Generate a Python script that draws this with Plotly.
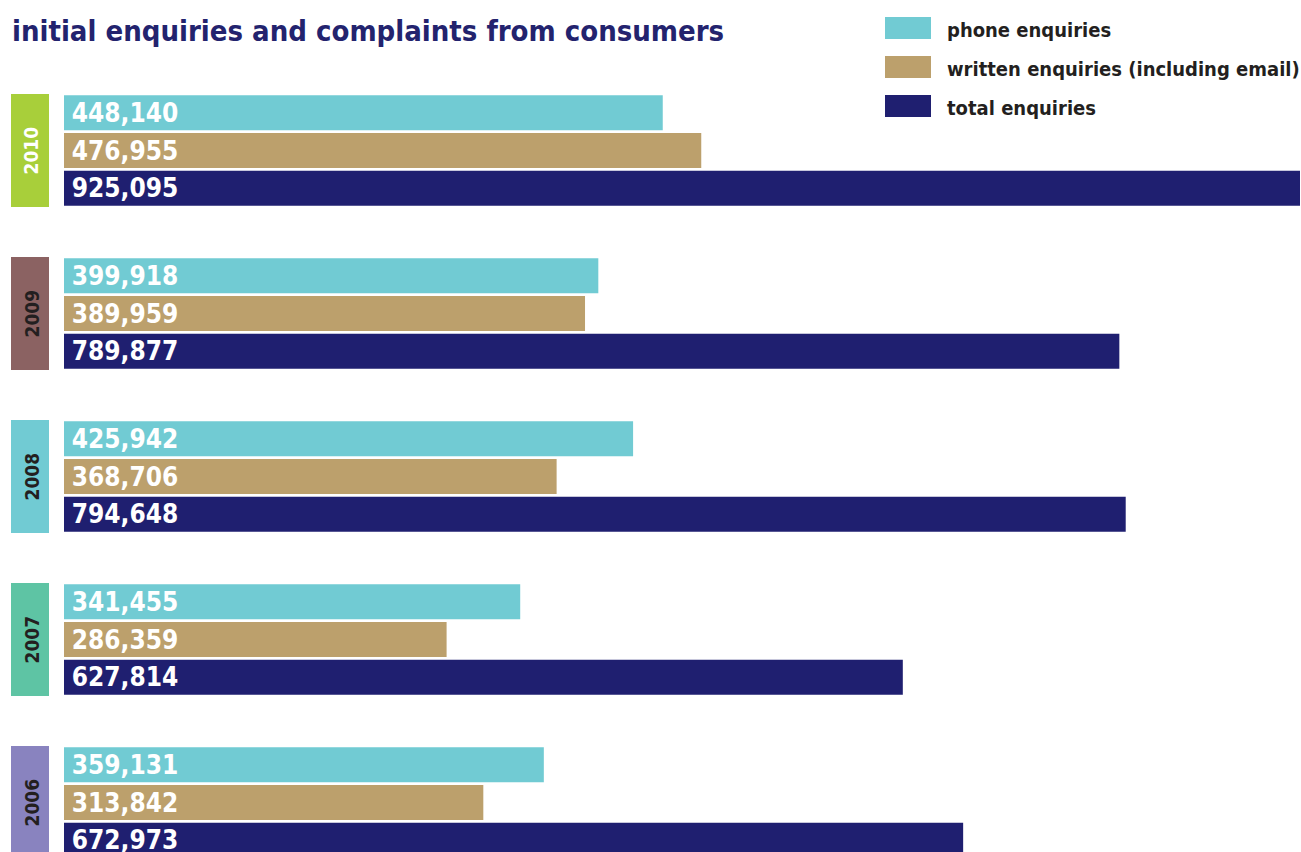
import plotly.graph_objects as go

years = ["2006", "2007", "2008", "2009", "2010"]
phone = [359131, 341455, 425942, 399918, 448140]
written = [313842, 286359, 368706, 389959, 476955]
total = [672973, 627814, 794648, 789877, 925095]

series_names = ["phone enquiries", "written enquiries (including email)", "total enquiries"]
series_colors = ["#71CBD3", "#BCA06C", "#1F1F70"]
year_colors = ["#8983BF", "#5EC4A4", "#71CBD3", "#8B6262", "#A8CF3A"]
year_text_colors = ["#231F20", "#231F20", "#231F20", "#231F20", "#FFFFFF"]

W, H = 1301, 852
FONT = "DejaVu Sans Condensed, Liberation Sans Narrow, sans-serif"

fig = go.Figure()
# horizontal grouped bars: first trace drawn at bottom of group
for vals, name, col in [(total, series_names[2], series_colors[2]),
                        (written, series_names[1], series_colors[1]),
                        (phone, series_names[0], series_colors[0])]:
    fig.add_trace(go.Bar(
        y=years, x=vals, orientation="h", name=name,
        marker=dict(color=col, line=dict(width=0)),
        text=[f"\u2009{v:,}" for v in vals],
        textposition="inside", insidetextanchor="start", constraintext="none",
        textfont=dict(family=FONT, size=26, color="white", weight="bold"),
        showlegend=False, hoverinfo="x+name",
    ))

x0px, x1px = 64, 1300
xmax = max(total)
fig.update_xaxes(domain=[x0px / W, x1px / W], range=[0, xmax], visible=False, fixedrange=True)
span = H / 163.0
r1 = 4 + 150.5 / 163.0
fig.update_yaxes(type="category", categoryorder="array", categoryarray=years,
                 range=[r1 - span, r1], visible=False, domain=[0, 1])

shapes = []
annotations = []
half = 113 / 163.0 / 2
for i, (yr, bc, tc) in enumerate(zip(years, year_colors, year_text_colors)):
    shapes.append(dict(type="rect", xref="paper", yref="y",
                       x0=11 / W, x1=49 / W, y0=i - half, y1=i + half,
                       fillcolor=bc, line=dict(width=0), layer="below"))
    cy = 150.5 + (4 - i) * 163
    annotations.append(dict(xref="paper", yref="paper", x=31 / W, y=1 - cy / H,
                            text=f"<b>{yr}</b>",
                            textangle=-90, showarrow=False, xanchor="center", yanchor="middle",
                            font=dict(family=FONT, size=19, color=tc)))

# title
annotations.append(dict(xref="paper", yref="paper", x=10 / W, y=1 - 31 / H,
                        text="<b>initial enquiries and complaints from consumers</b>",
                        showarrow=False, xanchor="left", yanchor="middle",
                        font=dict(family=FONT, size=29, color="#23236E")))

# legend
for k, (name, col) in enumerate(zip(series_names, series_colors)):
    cy = 28 + 39 * k
    shapes.append(dict(type="rect", xref="paper", yref="paper",
                       x0=885 / W, x1=931 / W, y0=1 - (cy + 11) / H, y1=1 - (cy - 11) / H,
                       fillcolor=col, line=dict(width=0)))
    annotations.append(dict(xref="paper", yref="paper", x=945 / W, y=1 - (cy + 2) / H,
                            text=f"<b>{name}</b>", showarrow=False, xanchor="left", yanchor="middle",
                            font=dict(family=FONT, size=20, color="#231F20")))

fig.update_layout(
    width=W, height=H, margin=dict(l=0, r=0, t=0, b=0),
    paper_bgcolor="white", plot_bgcolor="white",
    barmode="group", bargap=0.307, bargroupgap=0.071,
    shapes=shapes, annotations=annotations,
)

fig.write_html("out.html", config={"displayModeBar": False})
